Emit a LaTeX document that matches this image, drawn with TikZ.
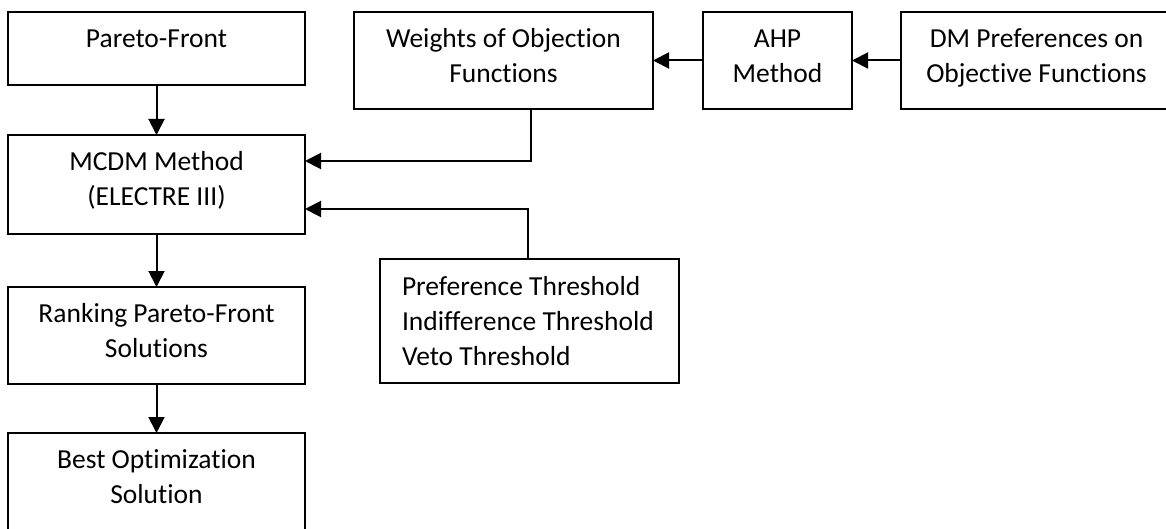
\documentclass[tikz,border=0pt]{standalone}
\usepackage{fontspec}
\setmainfont{Carlito}[Ligatures=NoCommon]
\usetikzlibrary{arrows.meta}
\usetikzlibrary{positioning}
\newcommand{\boxtext}[3]{\parbox[c][#2][t]{#1}{\centering\rule{0pt}{35.5pt}#3}}
\newcommand{\listtext}[3]{\parbox[c][#2][t]{#1}{\raggedright\leftskip=22pt\rule{0pt}{36pt}#3}}

\begin{document}
\begin{tikzpicture}[x=1pt, y=-1pt,
    stepbox/.style={draw, line width=2pt, inner sep=0pt, outer sep=0pt,
      anchor=north west, font=\fontsize{27.5}{35}\selectfont},
    flow/.style={line width=2pt, -{Triangle[length=16pt, width=16pt]}}]

      \useasboundingbox (0, 0) rectangle (1166, 529);

      % left column
      \node [stepbox] (pareto) at (8, 12) {\boxtext{297pt}{73pt}{Pareto-Front}};
      \node [stepbox] (mcdm) at (8, 135) {\boxtext{297pt}{99pt}{MCDM Method\\(ELECTRE III)}};
      \node [stepbox] (rank) at (8, 287) {\boxtext{297pt}{97pt}{Ranking Pareto-Front\\Solutions}};
      \node [stepbox] (best) at (8, 433) {\boxtext{297pt}{105pt}{Best Optimization\\Solution}};

      % top row
      \node [stepbox] (weights) at (354, 12) {\boxtext{299pt}{97pt}{Weights of Objection\\Functions}};
      \node [stepbox] (ahp) at (703, 12) {\boxtext{149pt}{97pt}{AHP\\Method}};
      \node [stepbox] (dm) at (901, 12) {\boxtext{271pt}{97pt}{DM Preferences on\\Objective Functions}};

      % thresholds
      \node [stepbox] (thresh) at (380, 259) {\listtext{299pt}{124pt}{Preference Threshold\\Indifference Threshold\\Veto Threshold}};

      \draw [flow] (pareto) -- (mcdm);
      \draw [flow] (mcdm) -- (rank);
      \draw [flow] (rank) -- (best);
      \draw [flow] (dm) -- (ahp);
      \draw [flow] (ahp) -- (weights);
      \draw [flow] ([xshift=27.5pt]weights.south) |- ([yshift=23.5pt]mcdm.east);
      \draw [flow] ([xshift=-1.5pt]thresh.north) |- ([yshift=-24.5pt]mcdm.east);

    \end{tikzpicture}
\end{document}
